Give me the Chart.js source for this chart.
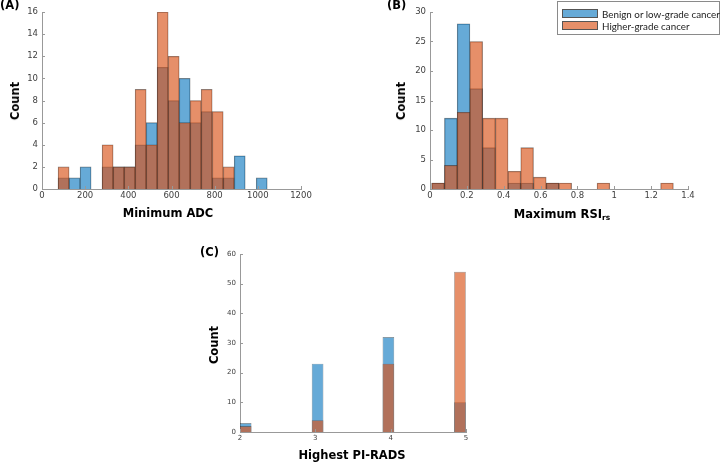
<!DOCTYPE html>
<html>
<head>
<meta charset="utf-8">
<script src="https://cdn.jsdelivr.net/npm/chart.js@4.4.1/dist/chart.umd.min.js"></script>
<style>
  body { margin: 0; background: #fff; }
  #fig { position: relative; width: 721px; height: 462px; overflow: hidden; background: #fff; }
  .cv { position: absolute; }
  .lbl { position: absolute; font-family: 'DejaVu Sans', sans-serif; font-weight: bold; font-size: 11.5px; color: #000; white-space: nowrap; }
  .ytitle { transform: translate(-50%, -50%) rotate(-90deg); }
  .xtitle { transform: translate(-50%, -50%); }
  .lbl sub { font-size: 7.5px; vertical-align: -2px; }
  #legend { position: absolute; left: 557px; top: 1px; width: 161px; height: 32px; border: 1px solid #8a8a8a; background: #fff;
            font-family: Lato, sans-serif; font-size: 9.8px; color: #222; }
  #legend .row { position: absolute; left: 4px; height: 10px; line-height: 10px; white-space: nowrap; }
  #legend .sw { display: inline-block; width: 36px; height: 9px; border: 1px solid #555; vertical-align: top; margin-right: 4px; box-sizing: border-box; }
</style>
</head>
<body>
<div id="fig">
  <canvas id="chA" class="cv" style="left:0px;top:0px" width="330" height="209"></canvas>
  <canvas id="chB" class="cv" style="left:360px;top:0px" width="361" height="209"></canvas>
  <canvas id="chC" class="cv" style="left:200px;top:230px" width="300" height="222"></canvas>

  <div class="lbl" style="left:0px;top:-2px">(A)</div>
  <div class="lbl" style="left:387px;top:-2px">(B)</div>
  <div class="lbl" style="left:200px;top:245px">(C)</div>

  <div class="lbl ytitle" style="left:15px;top:101px">Count</div>
  <div class="lbl ytitle" style="left:401px;top:101px">Count</div>
  <div class="lbl ytitle" style="left:214px;top:345px">Count</div>

  <div class="lbl xtitle" style="left:168px;top:213px">Minimum ADC</div>
  <div class="lbl xtitle" style="left:562px;top:214px">Maximum RSI<sub>rs</sub></div>
  <div class="lbl xtitle" style="left:352px;top:455px">Highest PI-RADS</div>

  <div id="legend"></div>
</div>
<script>
const SERIES = ['Benign or low-grade cancer', 'Higher-grade cancer'];
const BLUE = 'rgba(0,114,189,0.6)';
const ORANGE = 'rgba(217,83,25,0.65)';
const EDGE = 'rgba(30,30,30,0.55)';

// (A) Minimum ADC - bin centres and counts
const adcBins = [100, 151, 202, 253, 304, 355, 406, 457, 508, 559, 610, 661, 712, 763, 814, 865, 916, 967, 1018];
const adcLow  = [1, 1, 2, 0, 2, 2, 2, 4, 6, 11, 8, 10, 6, 7, 1, 1, 3, 0, 1];
const adcHigh = [2, 0, 0, 0, 4, 2, 2, 9, 4, 16, 12, 6, 8, 9, 7, 2, 0, 0, 0];

// (B) Maximum RSIrs
const rsiBins = [0.044, 0.113, 0.182, 0.251, 0.320, 0.389, 0.458, 0.527, 0.596, 0.665,
                 0.734, 0.803, 0.872, 0.941, 1.010, 1.079, 1.148, 1.217, 1.286];
const rsiLow  = [1, 12, 28, 17, 7, 0, 1, 1, 0, 1, 0, 0, 0, 0, 0, 0, 0, 0, 0];
const rsiHigh = [1, 4, 13, 25, 12, 12, 3, 7, 2, 1, 1, 0, 0, 1, 0, 0, 0, 0, 1];

// (C) Highest PI-RADS
const piBins = [2.075, 3.03, 3.97, 4.92];
const piLow  = [3, 23, 32, 10];
const piHigh = [2, 4, 23, 54];

// matlab style ticks pointing into the plot
const innerTicks = {
    id: 'innerTicks',
    afterDraw(chart) {
        const { ctx, chartArea: a, scales: { x, y } } = chart;
        ctx.save();
        ctx.strokeStyle = '#999';
        ctx.lineWidth = 1;
        ctx.beginPath();
        x.ticks.forEach(t => {
            const px = Math.round(x.getPixelForValue(t.value)) + 0.5;
            ctx.moveTo(px, a.bottom); ctx.lineTo(px, a.bottom - 3);
        });
        y.ticks.forEach(t => {
            const py = Math.round(y.getPixelForValue(t.value)) + 0.5;
            ctx.moveTo(a.left, py); ctx.lineTo(a.left + 3, py);
        });
        ctx.stroke();
        ctx.restore();
    }
};

const pts = (xs, ys) => xs.map((x, i) => ({ x, y: ys[i] }));

function histChart(id, bins, low, high, o) {
    const tickFont = { family: 'DejaVu Sans', size: o.fs };
    return new Chart(document.getElementById(id), {
        type: 'bar',
        data: {
            datasets: [
                { label: SERIES[0], data: pts(bins, low), backgroundColor: BLUE, borderColor: EDGE, borderWidth: 0.6, order: 2 },
                { label: SERIES[1], data: pts(bins, high), backgroundColor: ORANGE, borderColor: EDGE, borderWidth: 0.6, order: 1 }
            ]
        },
        options: {
            responsive: false, animation: false,
            datasets: { bar: { grouped: false, categoryPercentage: o.cat, barPercentage: 1, borderSkipped: 'bottom' } },
            layout: { padding: o.pad },
            plugins: { legend: { display: false }, tooltip: { enabled: false } },
            scales: {
                x: {
                    type: 'linear', min: o.xmin, max: o.xmax, offset: false,
                    afterFit: s => { s.height = 20; },
                    afterBuildTicks: s => { s.ticks = o.xticks.map(v => ({ value: v })); },
                    ticks: { font: tickFont, color: '#404040', padding: 2, maxRotation: 0, autoSkip: false,
                             callback: v => String(v) },
                    grid: { display: false, drawTicks: false },
                    border: { display: true, color: '#999' }
                },
                y: {
                    min: 0, max: o.ymax,
                    afterFit: s => { s.width = o.yw; },
                    ticks: { font: tickFont, color: '#404040', stepSize: o.ystep, padding: 4 },
                    grid: { display: false, drawTicks: false },
                    border: { display: true, color: '#999' }
                }
            }
        },
        plugins: [innerTicks]
    });
}

histChart('chA', adcBins, adcLow, adcHigh, {
    cat: 1, xmin: 0, xmax: 1200, xticks: [0, 200, 400, 600, 800, 1000, 1200], fs: 8.5,
    ymax: 16, ystep: 2, yw: 42, pad: { top: 12, right: 29, bottom: 0, left: 0 }
});
histChart('chB', rsiBins, rsiLow, rsiHigh, {
    cat: 1, xmin: 0, xmax: 1.4, xticks: [0, 0.2, 0.4, 0.6, 0.8, 1, 1.2, 1.4], fs: 8.5,
    ymax: 30, ystep: 5, yw: 70, pad: { top: 12, right: 33, bottom: 0, left: 0 }
});
histChart('chC', piBins, piLow, piHigh, {
    cat: 0.165, xmin: 2, xmax: 5, xticks: [2, 3, 4, 5], fs: 7,
    ymax: 60, ystep: 10, yw: 40, pad: { top: 24, right: 34, bottom: 0, left: 0 }
});

// legend for panel B
const lg = document.getElementById('legend');
[BLUE, ORANGE].forEach((c, i) => {
    const r = document.createElement('div');
    r.className = 'row';
    r.style.top = (7 + i * 12) + 'px';
    r.innerHTML = '<span class="sw" style="background:' + c + '"></span>' + SERIES[i];
    lg.appendChild(r);
});
</script>
</body>
</html>
